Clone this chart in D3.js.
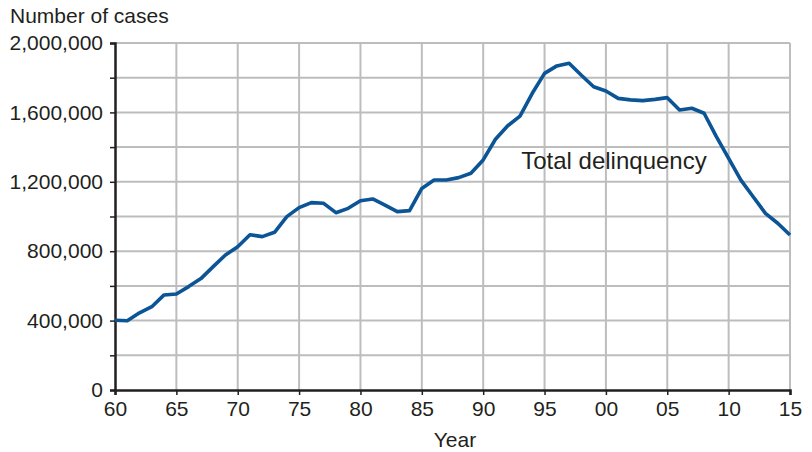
<!DOCTYPE html>
<html>
<head>
<meta charset="utf-8">
<script src="https://cdn.jsdelivr.net/npm/d3@7"></script>
<style>
  body { margin: 0; background: #fff; }
  text { font-family: "Liberation Sans", Arial, Helvetica, sans-serif; fill: #231f20; }
</style>
</head>
<body>
<svg id="chart" width="812" height="452"></svg>
<script>
"use strict";

// data
const years = d3.range(1960, 2016);
const cases = [
  402000, 399000, 445000, 480000, 548000, 553000, 596000, 642000, 711000, 778000,
  826000, 895000, 884000, 909000, 999000, 1051000, 1080000, 1076000, 1022000, 1047000,
  1091000, 1101000, 1066000, 1028000, 1034000, 1162000, 1210000, 1210000, 1224000, 1249000,
  1326000, 1445000, 1523000, 1579000, 1710000, 1825000, 1868000, 1883000, 1814000, 1748000,
  1723000, 1681000, 1672000, 1668000, 1675000, 1685000, 1614000, 1624000, 1595000, 1460000,
  1335000, 1210000, 1114000, 1018000, 961000, 893000
];
const xTicks = d3.range(1960, 2016, 5);
const yTicks = d3.range(0, 2000001, 400000);
const yGrid = d3.range(0, 2000001, 200000);
const seriesLabel = "Total delinquency";

const margin = { left: 115, right: 22, top: 43, bottom: 62 };
const width = 812, height = 452;

var svg = d3.select("#chart");

var x = d3.scaleLinear()
    .domain([1960, 2015])
    .range([margin.left, width - margin.right]);

var y = d3.scaleLinear()
    .domain([0, 2000000])
    .range([height - margin.bottom, margin.top]);

// grid
var grid = svg.append("g")
    .attr("stroke", "#bdbdbd")
    .attr("stroke-width", 2);

grid.selectAll(".hgrid")
    .data(yGrid.filter(d => d > 0))
    .enter()
    .append("line")
        .attr("x1", x(1960))
        .attr("x2", x(2015))
        .attr("y1", d => y(d))
        .attr("y2", d => y(d));

grid.selectAll(".vgrid")
    .data(xTicks.filter(d => d > 1960))
    .enter()
    .append("line")
        .attr("x1", d => x(d))
        .attr("x2", d => x(d))
        .attr("y1", y(0))
        .attr("y2", y(2000000));

// y axis
var yAxis = svg.append("g")
    .attr("transform", "translate(" + margin.left + ",0)")
    .call(d3.axisLeft(y)
        .tickValues(yGrid)
        .tickSize(5)
        .tickPadding(7)
        .tickFormat(d => yTicks.includes(d) ? d3.format(",")(d) : ""));

// x axis
var xAxis = svg.append("g")
    .attr("transform", "translate(0," + y(0) + ")")
    .call(d3.axisBottom(x)
        .tickValues(xTicks)
        .tickSize(5)
        .tickPadding(6)
        .tickFormat(d => d3.format("02d")(d % 100)));

[xAxis, yAxis].forEach(function(a) {
    a.select(".domain").attr("stroke", "#231f20").attr("stroke-width", 2.5);
    a.selectAll(".tick line").attr("stroke", "#231f20").attr("stroke-width", 1.5);
    a.selectAll("text")
        .attr("font-size", 21)
        .style("font-family", "'Liberation Sans', Arial, sans-serif")
        .attr("fill", "#231f20");
});

// line
var line = d3.line()
    .x((d, i) => x(years[i]))
    .y(d => y(d));

svg.append("path")
    .datum(cases)
    .attr("fill", "none")
    .attr("stroke", "#0b5496")
    .attr("stroke-width", 3.6)
    .attr("stroke-linejoin", "round")
    .attr("d", line);

// labels
svg.append("text")
    .attr("x", 10)
    .attr("y", 23)
    .attr("font-size", 21)
    .text("Number of cases");

svg.append("text")
    .attr("x", x(1987.7))
    .attr("y", 447)
    .attr("font-size", 21)
    .attr("text-anchor", "middle")
    .text("Year");

svg.append("text")
    .attr("x", x(1993.1))
    .attr("y", y(1275000))
    .attr("font-size", 24)
    .text(seriesLabel);
</script>
</body>
</html>
